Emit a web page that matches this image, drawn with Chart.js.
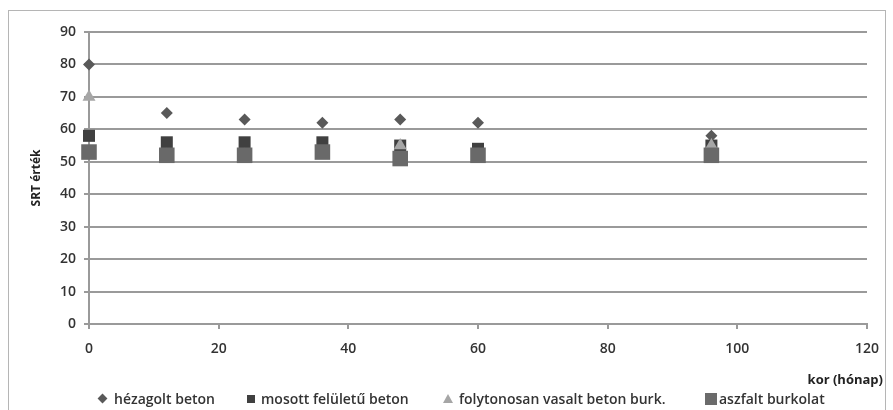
<!DOCTYPE html>
<html>
<head>
<meta charset="utf-8">
<script src="https://cdn.jsdelivr.net/npm/chart.js@4/dist/chart.umd.min.js"></script>
<style>
  html, body { margin: 0; padding: 0; background: #fff; }
  #wrap { position: relative; width: 893px; height: 410px; overflow: hidden; }
  #frame { position: absolute; left: 8px; top: 10px; width: 876px; height: 420px; border: 1px solid #b5b5b5; pointer-events: none; }
  #xtitle { position: absolute; right: 10px; top: 370px; font: bold 13px 'Open Sans'; color: #222; }
  .item { position: absolute; top: 389px; font: 600 14px 'Open Sans'; color: #333; white-space: nowrap; display: flex; align-items: center; }
  .mk { display: inline-block; margin-right: 6px; }
  .diamond { width: 7px; height: 7px; background: #595959; transform: rotate(45deg); margin-left: 1px; margin-right: 8px; }
  .sq { width: 8px; height: 8px; background: #404040; }
  .tri { width: 0; height: 0; border-left: 5px solid transparent; border-right: 5px solid transparent; border-bottom: 9px solid #a6a6a6; }
  .bigsq { width: 12px; height: 12px; background: #6b6b6b; margin-right: 2px; }
</style>
</head>
<body>
<div id="wrap">
  <canvas id="chart" width="893" height="410"></canvas>
  <div id="frame"></div>
  <div id="xtitle">kor (hónap)</div>
  <div class="item" style="left:98px"><span class="mk diamond"></span>hézagolt beton</div>
  <div class="item" style="left:247px"><span class="mk sq"></span>mosott felületű beton</div>
  <div class="item" style="left:443px"><span class="mk tri"></span>folytonosan vasalt beton burk.</div>
  <div class="item" style="left:705px"><span class="mk bigsq"></span>aszfalt burkolat</div>
</div>
<script>
// SRT values by pavement type over age (months)
const months = [0, 12, 24, 36, 48, 60, 96];
const hezagolt = [80, 65, 63, 62, 63, 62, 58];
const mosott = [58, 56, 56, 56, 55, 54, 55];
const folytonos = [70, 52, 52, 52, 55, 52, 55];
const aszfalt = [53, 52, 52, 53, 51, 52, 52];
const yTicks = [0, 10, 20, 30, 40, 50, 60, 70, 80, 90];
const xTicks = [0, 20, 40, 60, 80, 100, 120];

function pts(values) {
    return months.map(function (m, i) { return { x: m, y: values[i] }; });
}

const gridColor = '#9a9a9a';
const tickFont = { family: 'Open Sans', size: 14, weight: '600' };

new Chart(document.getElementById('chart'), {
    type: 'scatter',
    data: {
        datasets: [
            { label: 'hézagolt beton', data: pts(hezagolt), pointStyle: 'rectRot', pointRadius: 6,
              backgroundColor: '#595959', borderColor: '#595959', borderWidth: 0, order: 3, clip: false },
            { label: 'mosott felületű beton', data: pts(mosott), pointStyle: 'rect', pointRadius: 8.5,
              backgroundColor: '#404040', borderColor: '#404040', borderWidth: 0, order: 2, clip: false },
            { label: 'folytonosan vasalt beton burk.', data: pts(folytonos), pointStyle: 'triangle', pointRadius: 7.5,
              backgroundColor: '#a6a6a6', borderColor: '#a6a6a6', borderWidth: 0, order: 1, clip: false },
            { label: 'aszfalt burkolat', data: pts(aszfalt), pointStyle: 'rect', pointRadius: 11,
              backgroundColor: '#696969', borderColor: '#696969', borderWidth: 0, order: 0, clip: false }
        ]
    },
    options: {
        responsive: false,
        animation: false,
        layout: { padding: { left: 29, right: 26, top: 32, bottom: 56 } },
        plugins: {
            legend: { display: false },
            tooltip: { enabled: false }
        },
        scales: {
            x: {
                type: 'linear',
                min: 0,
                max: 120,
                afterFit: function (scale) { scale.height = 30; },
                afterBuildTicks: function (scale) { scale.ticks = xTicks.map(function (v) { return { value: v }; }); },
                grid: { drawOnChartArea: false, drawTicks: true, tickLength: 5, color: gridColor, lineWidth: 2 },
                border: { display: true, color: gridColor, width: 2 },
                ticks: { padding: 12, color: '#333', font: tickFont, maxRotation: 0 }
            },
            y: {
                min: 0,
                max: 90,
                afterFit: function (scale) { scale.width = 60; },
                afterBuildTicks: function (scale) { scale.ticks = yTicks.map(function (v) { return { value: v }; }); },
                grid: { drawTicks: true, tickLength: 5, color: gridColor, lineWidth: 2 },
                border: { display: true, color: gridColor, width: 2 },
                ticks: { padding: 8, color: '#333', font: tickFont },
                title: { display: true, text: 'SRT érték', color: '#222', font: { family: 'Open Sans', size: 12, weight: 'bold' }, padding: 0 }
            }
        }
    }
});
</script>
</body>
</html>
